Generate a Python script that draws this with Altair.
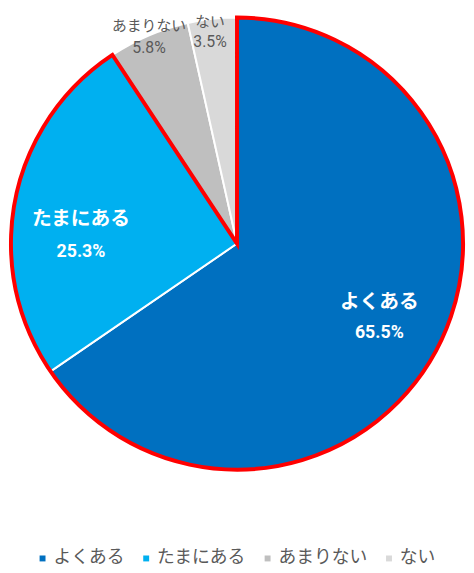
import altair as alt
import pandas as pd

categories = ["よくある", "たまにある", "あまりない", "ない"]
values = [65.5, 25.3, 5.8, 3.5]
colors = ["#0070C0", "#00B0F0", "#BFBFBF", "#D9D9D9"]
highlight_parts = ["hl", "rest"]

df = pd.DataFrame({"category": categories, "value": values, "order": list(range(len(categories)))})
df["pct"] = df["value"].map(lambda v: f"{v:.1f}%")

df_hl = pd.DataFrame({
    "part": highlight_parts,
    "value": [values[0] + values[1], values[2] + values[3]],
    "order": [0, 1],
})

R = 229
JP = "Noto Sans CJK JP"
NARROW = "Liberation Sans Narrow, Roboto, sans-serif"

theta = alt.Theta("value:Q", stack=True)
order = alt.Order("order:Q")

pie = alt.Chart(df).mark_arc(outerRadius=R, stroke="white", strokeWidth=2).encode(
    theta=theta,
    order=order,
    color=alt.Color(
        "category:N",
        sort=categories,
        scale=alt.Scale(domain=categories, range=colors),
        legend=alt.Legend(
            orient="none", legendX=26, legendY=537, direction="horizontal", columns=4,
            title=None, symbolType="square", symbolSize=36, symbolStrokeWidth=0,
            labelFont=JP, labelFontSize=18, labelColor="#595959", labelOffset=2,
            columnPadding=13, padding=0,
        ),
    ),
)

red = alt.Chart(df_hl).mark_arc(outerRadius=R, fill="white", fillOpacity=0, stroke="#FF0000", strokeWidth=4).encode(
    theta=theta,
    order=order,
    strokeOpacity=alt.condition(alt.datum.part == "hl", alt.value(1), alt.value(0)),
)

label_style = {
    "よくある": dict(radius=163, color="white", weight="bold", name_size=20, pct_size=18, name_dy=-17, pct_dy=15, dx=0),
    "たまにある": dict(radius=158, color="white", weight="bold", name_size=20, pct_size=18, name_dy=5, pct_dy=39, dx=-3),
    "あまりない": dict(radius=228, color="#595959", weight="normal", name_size=15, pct_size=16, name_dy=-11, pct_dy=12, dx=0),
    "ない": dict(radius=222, color="#595959", weight="normal", name_size=15, pct_size=16, name_dy=-4, pct_dy=17, dx=-3),
}

texts = []
for cat in categories:
    s = label_style[cat]
    name = alt.Chart(df).mark_text(
        radius=s["radius"], dy=s["name_dy"], dx=s["dx"], font=JP, fontSize=s["name_size"],
        fontWeight=s["weight"], color=s["color"], baseline="middle", align="center",
    ).encode(
        theta=theta, order=order,
        text=alt.condition(alt.datum.category == cat, "category:N", alt.value("")),
    )
    pct = alt.Chart(df).mark_text(
        radius=s["radius"], dy=s["pct_dy"], dx=s["dx"], font=NARROW, fontSize=s["pct_size"],
        fontWeight=s["weight"], color=s["color"], baseline="middle", align="center",
    ).encode(
        theta=theta, order=order,
        text=alt.condition(alt.datum.category == cat, "pct:N", alt.value("")),
    )
    texts += [name, pct]

chart = alt.layer(pie, red, *texts).properties(
    width=464, height=454,
    padding={"left": 0, "top": 8, "right": 0, "bottom": 98},
    autosize=alt.AutoSizeParams(type="none"),
).configure_view(strokeWidth=0)

chart.save("out.html", embed_options={"renderer": "svg", "actions": False})
